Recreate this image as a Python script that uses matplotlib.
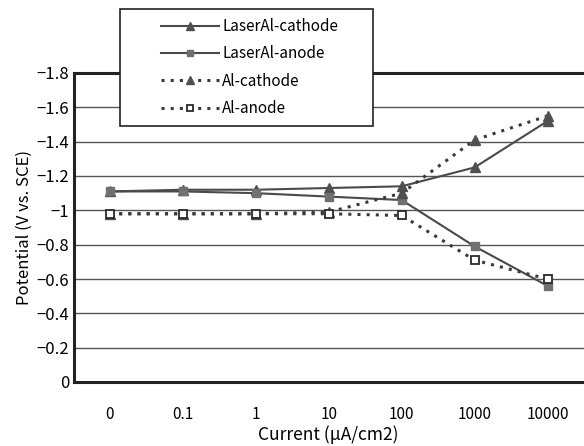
import matplotlib
matplotlib.use("Agg")
import matplotlib.pyplot as plt
from matplotlib.patches import Rectangle

plt.rcParams['font.family'] = ['Noto Sans CJK JP', 'DejaVu Sans']

categories = ['0', '0.1', '1', '10', '100', '1000', '10000']
laser_cathode = [-1.11, -1.12, -1.12, -1.13, -1.14, -1.25, -1.52]
laser_anode = [-1.11, -1.11, -1.10, -1.08, -1.06, -0.79, -0.56]
al_cathode = [-0.98, -0.98, -0.98, -0.99, -1.10, -1.41, -1.55]
al_anode = [-0.98, -0.98, -0.98, -0.98, -0.97, -0.71, -0.60]
yticks = [0, -0.2, -0.4, -0.6, -0.8, -1.0, -1.2, -1.4, -1.6, -1.8]
ytick_labels = ['0', '\u22120.2', '\u22120.4', '\u22120.6', '\u22120.8', '\u22121',
                '\u22121.2', '\u22121.4', '\u22121.6', '\u22121.8']

fig = plt.figure(figsize=(5.84, 4.46), dpi=100)
ax = fig.add_axes([73.5 / 584, 1 - 382 / 446, 1 - 73.5 / 584, (382 - 73) / 446])

x = list(range(len(categories)))
line_col = '#4a4a4a'
h1, = ax.plot(x, laser_cathode, '-', color=line_col, lw=1.5, marker='^', ms=7,
              mfc='#505050', mec='#505050', label='LaserAl-cathode', zorder=3)
h2, = ax.plot(x, laser_anode, '-', color=line_col, lw=1.5, marker='s', ms=6,
              mfc='#707070', mec='#707070', label='LaserAl-anode', zorder=3)
h3, = ax.plot(x, al_cathode, linestyle=(0, (1, 2)), color='#3a3a3a', lw=2.2, marker='^', ms=7,
              mfc='#505050', mec='#505050', label='Al-cathode', zorder=4)
h4, = ax.plot(x, al_anode, linestyle=(0, (1, 2)), color='#3a3a3a', lw=2.2, marker='s', ms=6,
              mfc='white', mec='#2a2a2a', mew=1.3, label='Al-anode', zorder=5)

ax.set_xlim(-0.5, len(categories) - 0.5)
ax.set_ylim(0, -1.8)
ax.set_xticks(x)
ax.set_xticklabels(categories, fontsize=11)
ax.set_yticks(yticks)
ax.set_yticklabels(ytick_labels, fontsize=12)
ax.tick_params(axis='x', length=0, pad=17)
ax.tick_params(axis='y', length=0, pad=3)
ax.yaxis.grid(True, color='#555555', lw=1.0)
ax.set_axisbelow(True)
for s in ['left', 'top', 'bottom']:
    ax.spines[s].set_linewidth(2.2)
    ax.spines[s].set_color('#222222')
ax.spines['right'].set_visible(False)

ax.set_xlabel('Current (\u03bcA/cm2)', fontsize=12.5, labelpad=2)
ax.set_ylabel('Potential (V vs. SCE)', fontsize=12, labelpad=3)

# legend box
rect = Rectangle((120 / 584, 1 - 126 / 446), (373 - 120) / 584, (126 - 9) / 446,
                 transform=fig.transFigure, facecolor='white', edgecolor='#222222',
                 lw=1.2, zorder=5)
fig.patches.append(rect)
leg = fig.legend(handles=[h1, h2, h3, h4], loc='upper left',
                 bbox_to_anchor=(158 / 584, 1 - 15 / 446), bbox_transform=fig.transFigure,
                 frameon=False, fontsize=11, handlelength=3.8, handletextpad=0.2,
                 labelspacing=0.68, borderpad=0.2, borderaxespad=0, markerscale=0.75)
leg.set_zorder(6)

fig.savefig('out.png', dpi=100)
